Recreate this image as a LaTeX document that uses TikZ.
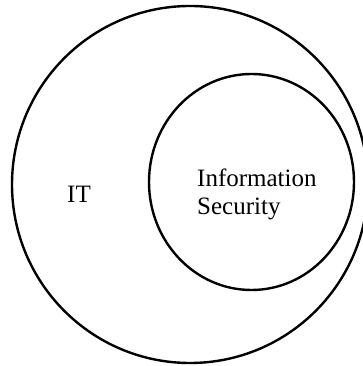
\documentclass[tikz,border=0pt]{standalone}
\usepackage{fontspec}
\setmainfont{Liberation Serif}
\begin{document}
\begin{tikzpicture}[x=1pt,y=1pt,
  ring/.style={draw=black,line width=2.4pt},
  lbl/.style={font=\fontsize{25}{28}\selectfont,inner sep=0pt,align=left}]
\useasboundingbox (0,0) rectangle (362,366);
% outer set: IT
\draw[ring] (190,181.5) ellipse [x radius=178, y radius=178.5];
% inner set: Information Security
\draw[ring] (251.5,184) ellipse [x radius=102.5, y radius=108];
\node[lbl,anchor=base west] (it) at (67,163) {IT};
% the base anchor of a two-line node sits on its last line
\node[lbl,anchor=base west] (infosec) at (197,151) {Information\\Security};
\end{tikzpicture}
\end{document}
